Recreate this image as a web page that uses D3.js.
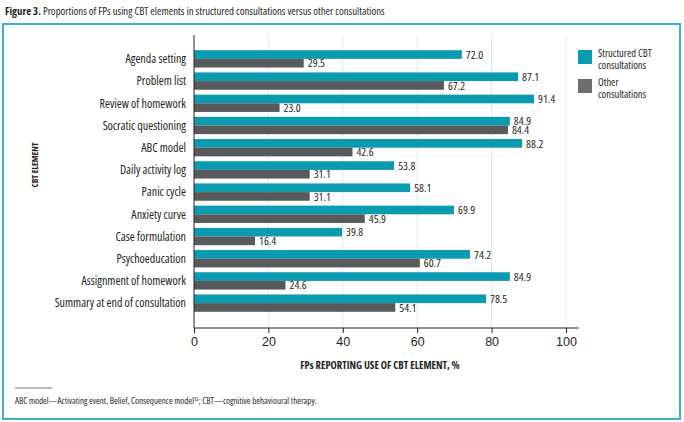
<!DOCTYPE html>
<html>
<head>
<meta charset="utf-8">
<script src="https://cdn.jsdelivr.net/npm/d3@7"></script>
<style>
  body { margin: 0; background: #fff; }
  svg { display: block; font-family: "Open Sans", sans-serif; font-stretch: condensed; }
</style>
</head>
<body>
<svg id="chart" width="684" height="422"></svg>
<script>
const categories = ['Agenda setting', 'Problem list', 'Review of homework', 'Socratic questioning',
  'ABC model', 'Daily activity log', 'Panic cycle', 'Anxiety curve', 'Case formulation',
  'Psychoeducation', 'Assignment of homework', 'Summary at end of consultation'];
const structured = [72.0, 87.1, 91.4, 84.9, 88.2, 53.8, 58.1, 69.9, 39.8, 74.2, 84.9, 78.5];
const other = [29.5, 67.2, 23.0, 84.4, 42.6, 31.1, 31.1, 45.9, 16.4, 60.7, 24.6, 54.1];
const xTicks = [0, 20, 40, 60, 80, 100];
const seriesNames = [['Structured CBT', 'consultations'], ['Other', 'consultations']];

const teal = '#0a9bb1', grey = '#58595b';

const svg = d3.select('#chart');

// frame
svg.append('rect')
  .attr('x', 3).attr('y', 24)
  .attr('width', 677).attr('height', 395)
  .attr('fill', 'none')
  .attr('stroke', '#3fb0cb')
  .attr('stroke-width', 2);

// title
const title = svg.append('text').attr('x', 5).attr('y', 15).attr('font-size', 10.8).attr('fill', '#231f20');
title.append('tspan').attr('font-weight', 'bold').text('Figure 3.');
title.append('tspan').text(' Proportions of FPs using CBT elements in structured consultations versus other consultations');

const x = d3.scaleLinear().domain([0, 100]).range([194, 566]);
const y = d3.scaleBand().domain(categories).range([48, 314]).paddingInner(0.22).paddingOuter(0.1);
const inner = d3.scaleBand().domain([0, 1]).range([0, y.bandwidth()]);

// gridlines
svg.append('g').selectAll('line')
  .data(xTicks.slice(1))
  .join('line')
  .attr('x1', d => x(d)).attr('x2', d => x(d))
  .attr('y1', 35).attr('y2', 328)
  .attr('stroke', '#d5ebf1').attr('stroke-width', 1);

// bars
const groups = svg.append('g').selectAll('g')
  .data(categories)
  .join('g')
  .attr('transform', d => `translate(0,${y(d)})`);

[structured, other].forEach((vals, s) => {
  groups.append('rect')
    .attr('x', x(0))
    .attr('y', inner(s))
    .attr('width', (d, i) => x(vals[i]) - x(0))
    .attr('height', inner.bandwidth())
    .attr('fill', s === 0 ? teal : grey);
  groups.append('text')
    .attr('x', (d, i) => x(vals[i]) + 4)
    .attr('y', inner(s) + inner.bandwidth() / 2)
    .attr('dy', '0.36em')
    .attr('font-size', 11.5)
    .attr('fill', '#231f20')
    .text((d, i) => vals[i].toFixed(1));
});

// category labels
svg.append('g').selectAll('text')
  .data(categories)
  .join('text')
  .attr('x', 186)
  .attr('y', d => y(d) + y.bandwidth() / 2)
  .attr('dy', '0.36em')
  .attr('text-anchor', 'end')
  .attr('font-size', 12)
  .attr('fill', '#231f20')
  .text(d => d);

// y axis line
svg.append('line')
  .attr('x1', x(0)).attr('x2', x(0))
  .attr('y1', 35).attr('y2', 328)
  .attr('stroke', '#231f20').attr('stroke-width', 1);

// x axis
const xAxis = svg.append('g')
  .attr('transform', 'translate(0,328)')
  .call(d3.axisBottom(x).tickValues(xTicks).tickSize(5).tickPadding(4).tickFormat(d3.format('d')));
xAxis.select('.domain').attr('d', `M${x(0)},0H579`).attr('stroke', '#231f20');
xAxis.selectAll('.tick line').attr('stroke', '#231f20');
xAxis.selectAll('.tick text')
  .attr('font-family', '"Liberation Sans", sans-serif')
  .attr('font-size', 12.5)
  .attr('fill', '#231f20');

// axis titles
svg.append('text')
  .attr('x', (x(0) + x(100)) / 2).attr('y', 369)
  .attr('text-anchor', 'middle')
  .attr('font-size', 10.5).attr('font-weight', 'bold').attr('fill', '#231f20')
  .text('FPs REPORTING USE OF CBT ELEMENT, %');

svg.append('text')
  .attr('transform', 'translate(38,165) rotate(-90)')
  .attr('text-anchor', 'middle')
  .attr('font-size', 8.8).attr('font-weight', 'bold').attr('fill', '#231f20')
  .text('CBT ELEMENT');

// legend
const legend = svg.append('g').attr('transform', 'translate(578,50)');
const legendColors = [teal, '#6d6e71'];
seriesNames.forEach((lines, i) => {
  const g = legend.append('g').attr('transform', `translate(0,${i * 29})`);
  g.append('rect').attr('width', 14).attr('height', 14).attr('fill', legendColors[i]);
  const t = g.append('text').attr('font-size', 10.5).attr('fill', '#231f20');
  lines.forEach((w, j) => {
    t.append('tspan')
      .attr('x', 20).attr('y', 6.5 + j * 12)
      .text(w);
  });
});

// footnote
svg.append('line')
  .attr('x1', 15).attr('x2', 52)
  .attr('y1', 388).attr('y2', 388)
  .attr('stroke', '#231f20').attr('stroke-width', 0.6);

const foot = svg.append('text').attr('x', 15).attr('y', 404).attr('font-size', 9).attr('fill', '#231f20');
foot.append('tspan').text('ABC model\u2014Activating event, Belief, Consequence model');
foot.append('tspan').attr('font-size', 5.5).attr('dy', -3.5).text('32');
foot.append('tspan').attr('dy', 3.5).text('; CBT\u2014cognitive behavioural therapy.');
</script>
</body>
</html>
